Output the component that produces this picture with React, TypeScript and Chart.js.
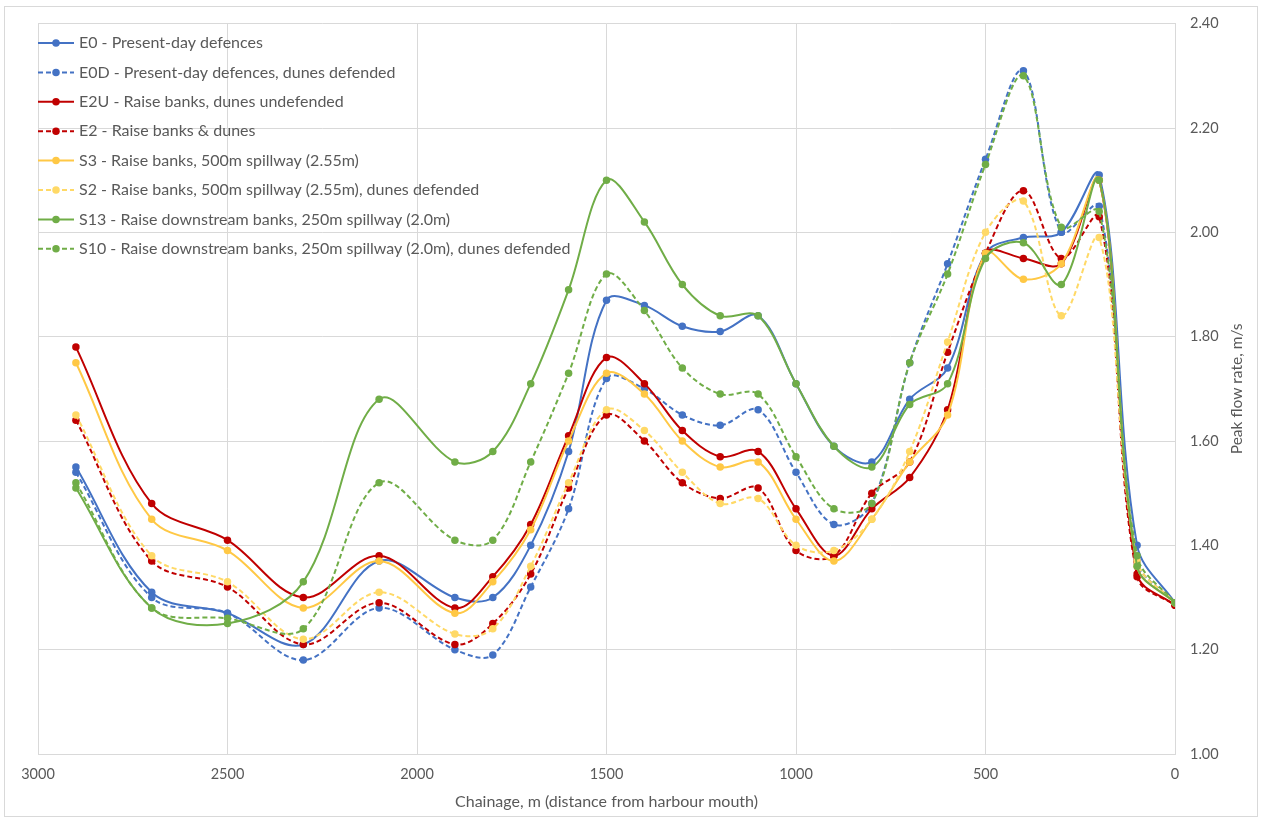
import React, { useEffect, useRef } from "react";
import { Chart, registerables } from "chart.js";

Chart.register(...registerables);

// Chainage (m from harbour mouth)
const chainage = [2900, 2700, 2500, 2300, 2100, 1900, 1800, 1700, 1600, 1500, 1400, 1300, 1200, 1100, 1000, 900, 800, 700, 600, 500, 400, 300, 200, 100, 0];

const seriesNames = [
  "E0 - Present-day defences",
  "E0D - Present-day defences, dunes defended",
  "E2U - Raise banks, dunes undefended",
  "E2 - Raise banks & dunes",
  "S3 - Raise banks, 500m spillway (2.55m)",
  "S2 - Raise banks, 500m spillway (2.55m), dunes defended",
  "S13 - Raise downstream banks, 250m spillway (2.0m)",
  "S10 - Raise downstream banks, 250m spillway (2.0m), dunes defended",
];

const e0 = [1.55, 1.31, 1.27, 1.21, 1.37, 1.30, 1.30, 1.40, 1.58, 1.87, 1.86, 1.82, 1.81, 1.84, 1.71, 1.59, 1.56, 1.68, 1.74, 1.96, 1.99, 2.00, 2.11, 1.40, 1.29];
const e0d = [1.54, 1.30, 1.27, 1.18, 1.28, 1.20, 1.19, 1.32, 1.47, 1.72, 1.70, 1.65, 1.63, 1.66, 1.54, 1.44, 1.48, 1.75, 1.94, 2.14, 2.31, 2.00, 2.05, 1.37, 1.29];
const e2u = [1.78, 1.48, 1.41, 1.30, 1.38, 1.28, 1.34, 1.44, 1.61, 1.76, 1.71, 1.62, 1.57, 1.58, 1.47, 1.38, 1.47, 1.53, 1.66, 1.96, 1.95, 1.94, 2.10, 1.345, 1.285];
const e2 = [1.64, 1.37, 1.32, 1.21, 1.29, 1.21, 1.25, 1.345, 1.51, 1.65, 1.60, 1.52, 1.49, 1.51, 1.39, 1.38, 1.50, 1.56, 1.77, 1.96, 2.08, 1.95, 2.03, 1.34, 1.285];
const s3 = [1.75, 1.45, 1.39, 1.28, 1.37, 1.27, 1.33, 1.43, 1.60, 1.73, 1.69, 1.60, 1.55, 1.56, 1.45, 1.37, 1.45, 1.56, 1.65, 1.96, 1.91, 1.94, 2.10, 1.36, 1.29];
const s2 = [1.65, 1.38, 1.33, 1.22, 1.31, 1.23, 1.24, 1.36, 1.52, 1.66, 1.62, 1.54, 1.48, 1.49, 1.40, 1.39, 1.45, 1.58, 1.79, 2.00, 2.06, 1.84, 1.99, 1.37, 1.29];
const s13 = [1.51, 1.28, 1.25, 1.33, 1.68, 1.56, 1.58, 1.71, 1.89, 2.10, 2.02, 1.90, 1.84, 1.84, 1.71, 1.59, 1.55, 1.67, 1.71, 1.95, 1.98, 1.90, 2.10, 1.36, 1.29];
const s10 = [1.52, 1.28, 1.26, 1.24, 1.52, 1.41, 1.41, 1.56, 1.73, 1.92, 1.85, 1.74, 1.69, 1.69, 1.57, 1.47, 1.48, 1.75, 1.92, 2.13, 2.30, 2.01, 2.04, 1.38, 1.29];

const seriesValues = [e0, e0d, e2u, e2, s3, s2, s13, s10];
const seriesColors = ["#4472C4", "#4472C4", "#C00000", "#C00000", "#FFC845", "#FFD966", "#70AD47", "#70AD47"];
const seriesDashed = [false, true, false, true, false, true, false, true];

const xTitle = "Chainage, m (distance from harbour mouth)";
const yTitle = "Peak flow rate, m/s";

const TEXT = "#595959";
const GRID = "#d9d9d9";
const FONT = "Lato, 'Liberation Sans', sans-serif";

const decorPlugin = {
  id: "decor",
  beforeDraw(chart: any) {
    const ctx = chart.ctx;
    ctx.save();
    ctx.fillStyle = "#ffffff";
    ctx.fillRect(0, 0, chart.width, chart.height);
    ctx.strokeStyle = GRID;
    ctx.lineWidth = 1;
    ctx.strokeRect(4.5, 6.5, 1253, 810);
    ctx.restore();
  },
  afterDraw(chart: any) {
    const ctx = chart.ctx;
    const area = chart.chartArea;
    ctx.save();
    // legend inside plot
    chart.data.datasets.forEach((ds: any, i: number) => {
      const y = 43 + i * 29.4;
      const x0 = area.left;
      const x1 = area.left + 36;
      ctx.strokeStyle = ds.borderColor;
      ctx.lineWidth = 2;
      ctx.setLineDash(ds.borderDash || []);
      ctx.beginPath();
      ctx.moveTo(x0, y);
      ctx.lineTo(x1, y);
      ctx.stroke();
      ctx.setLineDash([]);
      ctx.fillStyle = ds.borderColor;
      ctx.beginPath();
      ctx.arc((x0 + x1) / 2, y, 3.75, 0, Math.PI * 2);
      ctx.fill();
      ctx.fillStyle = TEXT;
      ctx.font = `16px ${FONT}`;
      ctx.textBaseline = "middle";
      ctx.textAlign = "left";
      ctx.fillText(ds.label, x1 + 5, y);
    });
    // x title
    ctx.fillStyle = TEXT;
    ctx.font = `16px ${FONT}`;
    ctx.textAlign = "center";
    ctx.textBaseline = "middle";
    ctx.fillText(xTitle, (area.left + area.right) / 2, 802);
    // y title (rotated, reading bottom to top)
    ctx.translate(1237, (area.top + area.bottom) / 2);
    ctx.rotate(-Math.PI / 2);
    ctx.font = `15.5px ${FONT}`;
    ctx.fillText(yTitle, 0, 0);
    ctx.restore();
  },
};

export default function App() {
  const canvasRef = useRef<HTMLCanvasElement | null>(null);

  useEffect(() => {
    if (!canvasRef.current) return;
    const datasets = seriesNames.map((name, i) => ({
      label: name,
      data: chainage.map((x, j) => ({ x, y: seriesValues[i][j] })),
      borderColor: seriesColors[i],
      backgroundColor: seriesColors[i],
      pointBackgroundColor: seriesColors[i],
      pointBorderColor: seriesColors[i],
      pointRadius: 3.75,
      pointBorderWidth: 0,
      borderWidth: 2,
      borderDash: seriesDashed[i] ? [5, 3] : [],
      tension: 0.35,
      fill: false,
      order: seriesNames.length - i,
    }));

    const chart = new Chart(canvasRef.current, {
      type: "line",
      data: { datasets },
      plugins: [decorPlugin],
      options: {
        animation: false,
        responsive: true,
        maintainAspectRatio: false,
        layout: { padding: { left: 38, right: 0, top: 23.5, bottom: 0 } },
        plugins: {
          legend: { display: false },
          tooltip: { enabled: false },
        },
        scales: {
          x: {
            type: "linear",
            min: 0,
            max: 3000,
            reverse: true,
            grid: { color: GRID, lineWidth: 1, drawTicks: false },
            border: { color: GRID },
            ticks: {
              stepSize: 500,
              padding: 12,
              color: TEXT,
              font: { family: FONT, size: 14.5 },
              maxRotation: 0,
              callback: (v: any) => String(v),
            },
            afterFit: (scale: any) => {
              scale.height = 69;
            },
          },
          y: {
            type: "linear",
            position: "right",
            min: 1.0,
            max: 2.4,
            grid: { color: GRID, lineWidth: 1, drawTicks: false },
            border: { color: GRID },
            ticks: {
              stepSize: 0.2,
              padding: 15,
              color: TEXT,
              font: { family: FONT, size: 14.5 },
              callback: (v: any) => Number(v).toFixed(2),
            },
            afterFit: (scale: any) => {
              scale.width = 89;
            },
          },
        },
      },
    });
    return () => chart.destroy();
  }, []);

  return (
    <div style={{ position: "fixed", left: 0, top: 0, width: 1264, height: 823, background: "#fff" }}>
      <canvas ref={canvasRef} />
    </div>
  );
}
